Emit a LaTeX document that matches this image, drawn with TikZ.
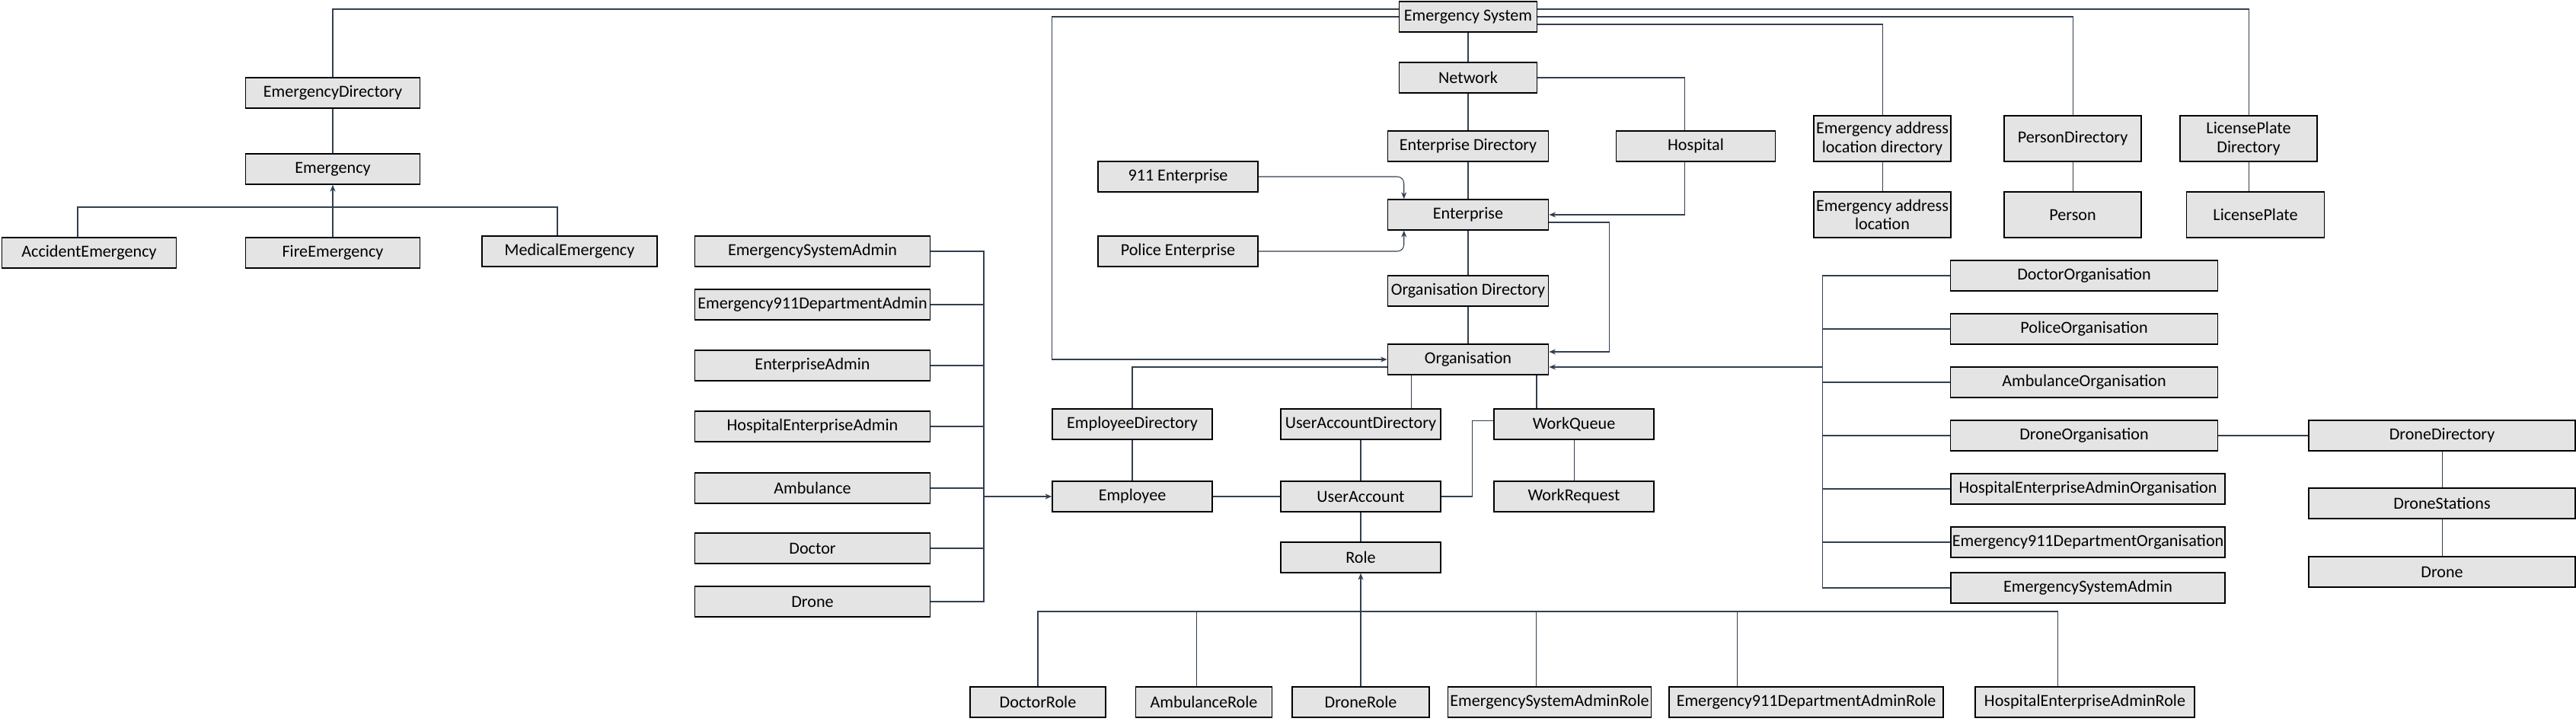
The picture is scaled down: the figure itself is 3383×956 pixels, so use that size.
\documentclass[tikz,border=0pt]{standalone}
\usepackage{fontspec}
\setmainfont{Carlito}
\usetikzlibrary{arrows.meta}
\definecolor{boxgray}{HTML}{E4E4E4}
\definecolor{linkc}{HTML}{333F50}
\begin{document}
\begin{tikzpicture}[x=0.02cm,y=-0.02cm,
  cls/.style={draw=black,fill=boxgray,line width=0.9pt,inner sep=1pt,minimum height=0.8cm,align=center,font=\fontsize{12.6}{14}\selectfont},
  tall/.style={cls,minimum height=1.2cm},
  link/.style={draw=linkc,line width=0.6pt},
  arr/.style={link,-{Stealth[length=5pt,width=4pt]}}]
\useasboundingbox (0,0) rectangle (3383,956);

% core chain
\node[cls,minimum width=3.62cm] (es) at (1928,22) {Emergency System};
\node[cls,minimum width=3.62cm] (net) at (1928,102) {Network};
\node[cls,minimum width=4.22cm] (entdir) at (1928,192) {Enterprise Directory};
\node[cls,minimum width=4.22cm] (ent) at (1928,282) {Enterprise};
\node[cls,minimum width=4.22cm] (orgdir) at (1928,382) {Organisation Directory};
\node[cls,minimum width=4.22cm] (org) at (1928,472) {Organisation};
\node[cls,minimum width=4.2cm] (ent911) at (1547,232) {911 Enterprise};
\node[cls,minimum width=4.2cm] (entpol) at (1547,330) {Police Enterprise};
\node[cls,minimum width=4.18cm] (hosp) at (2227,192) {Hospital};

% directories on the right of the top
\node[tall,minimum width=3.6cm] (locdir) at (2472,182) {Emergency address\\location directory};
\node[tall,minimum width=3.6cm] (loc) at (2472,282) {Emergency address\\location};
\node[tall,minimum width=3.6cm] (persdir) at (2722,182) {PersonDirectory};
\node[tall,minimum width=3.6cm] (pers) at (2722,282) {Person};
\node[tall,minimum width=3.6cm] (platedir) at (2953,182) {LicensePlate\\Directory};
\node[tall,minimum width=3.62cm] (plate) at (2962,282) {LicensePlate};

% emergencies
\node[cls,minimum width=4.58cm] (emdir) at (437,122) {EmergencyDirectory};
\node[cls,minimum width=4.58cm] (em) at (437,222) {Emergency};
\node[cls,minimum width=4.58cm] (accem) at (117,332) {AccidentEmergency};
\node[cls,minimum width=4.58cm] (fireem) at (437,332) {FireEmergency};
\node[cls,minimum width=4.6cm] (medem) at (748,330) {MedicalEmergency};

% admins
\node[cls,minimum width=6.18cm] (sysadm) at (1067,330) {EmergencySystemAdmin};
\node[cls,minimum width=6.18cm] (adm911) at (1067,400) {Emergency911DepartmentAdmin};
\node[cls,minimum width=6.18cm] (entadm) at (1067,480) {EnterpriseAdmin};
\node[cls,minimum width=6.18cm] (hospadm) at (1067,560) {HospitalEnterpriseAdmin};
\node[cls,minimum width=6.18cm] (amb) at (1067,641) {Ambulance};
\node[cls,minimum width=6.18cm] (doc) at (1067,720) {Doctor};
\node[cls,minimum width=6.18cm] (drone) at (1067,790) {Drone};

% organisation contents
\node[cls,minimum width=4.2cm] (empdir) at (1487,557) {EmployeeDirectory};
\node[cls,minimum width=4.2cm] (uadir) at (1787,557) {UserAccountDirectory};
\node[cls,minimum width=4.2cm] (wq) at (2067,557) {WorkQueue};
\node[cls,minimum width=4.2cm] (emp) at (1487,652) {Employee};
\node[cls,minimum width=4.2cm] (ua) at (1787,652) {UserAccount};
\node[cls,minimum width=4.2cm] (wr) at (2067,652) {WorkRequest};
\node[cls,minimum width=4.2cm] (role) at (1787,732) {Role};

% roles
\node[cls,minimum width=3.56cm] (docrole) at (1363,922) {DoctorRole};
\node[cls,minimum width=3.58cm] (ambrole) at (1581,922) {AmbulanceRole};
\node[cls,minimum width=3.6cm] (dronerole) at (1787,922) {DroneRole};
\node[cls,minimum width=5.34cm] (sysrole) at (2035,922) {EmergencySystemAdminRole};
\node[cls,minimum width=7.2cm] (role911) at (2372,922) {Emergency911DepartmentAdminRole};
\node[cls,minimum width=5.76cm] (hosprole) at (2738,922) {HospitalEnterpriseAdminRole};

% organisations
\node[cls,minimum width=7.02cm] (docorg) at (2737,362) {DoctorOrganisation};
\node[cls,minimum width=7.02cm] (polorg) at (2737,432) {PoliceOrganisation};
\node[cls,minimum width=7.02cm] (amborg) at (2737,502) {AmbulanceOrganisation};
\node[cls,minimum width=7.02cm] (droneorg) at (2737,572) {DroneOrganisation};
\node[cls,minimum width=7.2cm] (hosporg) at (2742,642) {HospitalEnterpriseAdminOrganisation};
\node[cls,minimum width=7.2cm] (org911) at (2742,712) {Emergency911DepartmentOrganisation};
\node[cls,minimum width=7.2cm] (sysorg) at (2742,772) {EmergencySystemAdmin};
\node[cls,minimum width=7.0cm] (dronedir) at (3207,572) {DroneDirectory};
\node[cls,minimum width=7.0cm] (stations) at (3207,661) {DroneStations};
\node[cls,minimum width=7.0cm] (dronebox) at (3207,751) {Drone};

\coordinate (embus) at (437,272);
\coordinate (admbus) at (1292,332);
\coordinate (rolebus) at (1787,803);
\coordinate (orgbus) at (2393,362);

% links from the system
\draw[link] (es) -- (net) -- (entdir) -- (ent) -- (orgdir) -- (org);
\draw[link] ([yshift=0.2cm]es.west) -| (emdir.north);
\draw[arr] (es.west) -| (empdir.west |- org.west) -- (org.west);
\draw[link] ([yshift=0.2cm]es.east) -| (platedir.north);
\draw[link] (es.east) -| (persdir.north);
\draw[link] ([yshift=-0.2cm]es.east) -| (locdir.north);
\draw[link] (locdir) -- (loc);
\draw[link] (persdir) -- (pers);
\draw[link] (platedir.south) -- (platedir.south |- plate.north);
\draw[link] (net.east) -| ([xshift=-0.3cm]hosp.north);
\draw[arr] ([xshift=-0.3cm]hosp.south) |- (ent.east);
\draw[arr] ([yshift=-0.2cm]ent.east) -| ([xshift=1.58cm,yshift=0.2cm]org.east) -- ([yshift=0.2cm]org.east);
\draw[arr,rounded corners=5pt] (ent911.east) -| ([xshift=0.44cm]ent.north west);
\draw[arr,rounded corners=5pt] (entpol.east) -| ([xshift=0.44cm]ent.south west);

% emergencies
\draw[link] (emdir) -- (em);
\draw[link] ([xshift=-0.3cm]accem.north) |- (embus) -| ([xshift=-0.32cm]medem.north);
\draw[arr] (fireem) -- (em);

% organisation
\draw[link] ([yshift=-0.2cm]org.west) -| (empdir.north);
\draw[link] ([xshift=-1.5cm]org.south) -- ([xshift=-1.5cm]org.south |- uadir.north);
\draw[link] ([xshift=1.8cm]org.south) -- ([xshift=1.8cm]org.south |- wq.north);
\draw[link] (empdir) -- (emp);
\draw[link] (uadir) -- (ua);
\draw[link] (wq) -- (wr);
\draw[link] (emp) -- (ua);
\draw[link] (ua) -- (role);
\draw[link] (ua.east) -- ++(0.82cm,0) |- ([yshift=0.09cm]wq.west);

% admins
\draw[link] (sysadm.east) -| (drone.east -| admbus) -- (drone.east);
\draw[link] (adm911.east) -- (adm911.east -| admbus);
\draw[link] (entadm.east) -- (entadm.east -| admbus);
\draw[link] (hospadm.east) -- (hospadm.east -| admbus);
\draw[link] (amb.east) -- (amb.east -| admbus);
\draw[link] (doc.east) -- (doc.east -| admbus);
\draw[arr] (admbus |- emp.west) -- (emp.west);

% roles
\draw[link] (docrole.north) |- ([xshift=-0.72cm]hosprole.north |- rolebus) -- ([xshift=-0.72cm]hosprole.north);
\draw[link] ([xshift=-0.19cm]ambrole.north) -- ([xshift=-0.19cm]ambrole.north |- rolebus);
\draw[link] ([xshift=-0.35cm]sysrole.north) -- ([xshift=-0.35cm]sysrole.north |- rolebus);
\draw[link] ([xshift=-1.82cm]role911.north) -- ([xshift=-1.82cm]role911.north |- rolebus);
\draw[arr] (dronerole) -- (role);

% organisations
\draw[link] (docorg.west) -| (sysorg.west -| orgbus) -- (sysorg.west);
\draw[link] (polorg.west) -- (polorg.west -| orgbus);
\draw[link] (amborg.west) -- (amborg.west -| orgbus);
\draw[link] (droneorg.west) -- (droneorg.west -| orgbus);
\draw[link] (hosporg.west) -- (hosporg.west -| orgbus);
\draw[link] (org911.west) -- (org911.west -| orgbus);
\draw[arr] ([yshift=-0.2cm]org.east -| orgbus) -- ([yshift=-0.2cm]org.east);
\draw[link] (droneorg) -- (dronedir);
\draw[link] (dronedir) -- (stations) -- (dronebox);
\end{tikzpicture}
\end{document}
